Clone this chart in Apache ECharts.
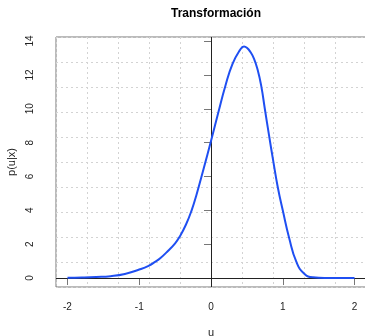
<!DOCTYPE html>
<html>
<head>
<meta charset="utf-8">
<script src="https://cdn.jsdelivr.net/npm/echarts@6/dist/echarts.min.js"></script>
<style>
html,body{margin:0;padding:0;background:#fff;}
#chart{width:365px;height:336px;}
</style>
</head>
<body>
<div id="chart"></div>
<script>
// Data
const uValues = [-2.0, -1.8, -1.6, -1.4, -1.2, -1.0, -0.87, -0.78, -0.7, -0.6, -0.5, -0.44, -0.35, -0.27, -0.2, -0.1, 0.0, 0.1, 0.2, 0.3, 0.4, 0.46, 0.5, 0.55, 0.6, 0.65, 0.7, 0.75, 0.81, 0.87, 0.93, 1.0, 1.09, 1.19, 1.3, 1.42, 1.6, 1.8, 2.0];
const pValues = [0.015, 0.03, 0.06, 0.11, 0.24, 0.5, 0.72, 0.95, 1.2, 1.6, 2.05, 2.42, 3.15, 4.0, 4.95, 6.5, 8.1, 9.75, 11.35, 12.65, 13.45, 13.68, 13.6, 13.35, 12.95, 12.3, 11.35, 10.0, 8.4, 6.85, 5.38, 4.0, 2.35, 0.95, 0.25, 0.04, 0.003, 0.0, 0.0];
const xTicks = [-2, -1, 0, 1, 2];
const yTicks = [0, 2, 4, 6, 8, 10, 12, 14];
const titleText = 'Transformación';
const xName = 'u';
const yName = 'p(u|x)';

const xMin = -2.16, xMax = 2.16;
const yMin = -0.53, yMax = 14.24;

const font = '"Liberation Sans", Arial, Helvetica, sans-serif';
const chart = echarts.init(document.getElementById('chart'), null, {renderer: 'canvas'});
const seriesData = uValues.map((u, i) => [u, pValues[i]]);

chart.setOption({
  animation: false,
  backgroundColor: '#fff',
  title: {
    text: titleText,
    left: 211, top: 3, textAlign: 'center',
    textStyle: {fontFamily: font, fontSize: 12, fontWeight: 'bold', color: '#000'}
  },
  grid: {left: 56, right: -1, top: 37, bottom: 49, containLabel: false, outerBoundsMode: 'none',
         show: true, borderColor: '#777', borderWidth: 1, backgroundColor: 'transparent'},
  xAxis: [
    {
      type: 'value', min: xMin, max: xMax, position: 'bottom',
      name: xName, nameLocation: 'middle', nameGap: 40,
      nameTextStyle: {fontFamily: font, fontSize: 11, color: '#222'},
      axisLine: {show: false},
      axisTick: {show: true, length: 7, customValues: xTicks, lineStyle: {color: '#777'}},
      axisLabel: {show: true, customValues: xTicks, margin: 15, fontFamily: font, fontSize: 10, color: '#222'},
      splitLine: {show: false}
    },
    {
      type: 'value', min: xMin, max: xMax, interval: 0.432, position: 'bottom',
      axisLine: {show: false}, axisTick: {show: false}, axisLabel: {show: false},
      splitLine: {show: true, lineStyle: {color: '#d3d3d3', type: [2, 3], width: 1}}
    }
  ],
  yAxis: [
    {
      type: 'value', min: yMin, max: yMax, position: 'left',
      name: yName, nameLocation: 'middle', nameGap: 38, nameRotate: 90,
      nameTextStyle: {fontFamily: font, fontSize: 11, color: '#222'},
      axisLine: {show: false},
      axisTick: {show: true, length: 7, customValues: yTicks, lineStyle: {color: '#777'}},
      axisLabel: {show: true, customValues: yTicks, rotate: 90, margin: 21, fontFamily: font, fontSize: 10, color: '#222'},
      splitLine: {show: false}
    },
    {
      type: 'value', min: yMin, max: yMax, interval: 1.477, position: 'left',
      axisLine: {show: false}, axisTick: {show: false}, axisLabel: {show: false},
      splitLine: {show: true, lineStyle: {color: '#d3d3d3', type: [2, 3], width: 1}}
    }
  ],
  series: [
    {
      type: 'line', xAxisIndex: 0, yAxisIndex: 0,
      data: seriesData, showSymbol: false, smooth: 0.5,
      lineStyle: {color: '#1f4ff2', width: 2}, z: 5,
      markLine: {
        silent: true, symbol: 'none', label: {show: false},
        lineStyle: {color: '#222', width: 1, type: 'solid'},
        data: [{xAxis: 0}, {yAxis: 0}]
      }
    }
  ]
});
</script>
</body>
</html>
